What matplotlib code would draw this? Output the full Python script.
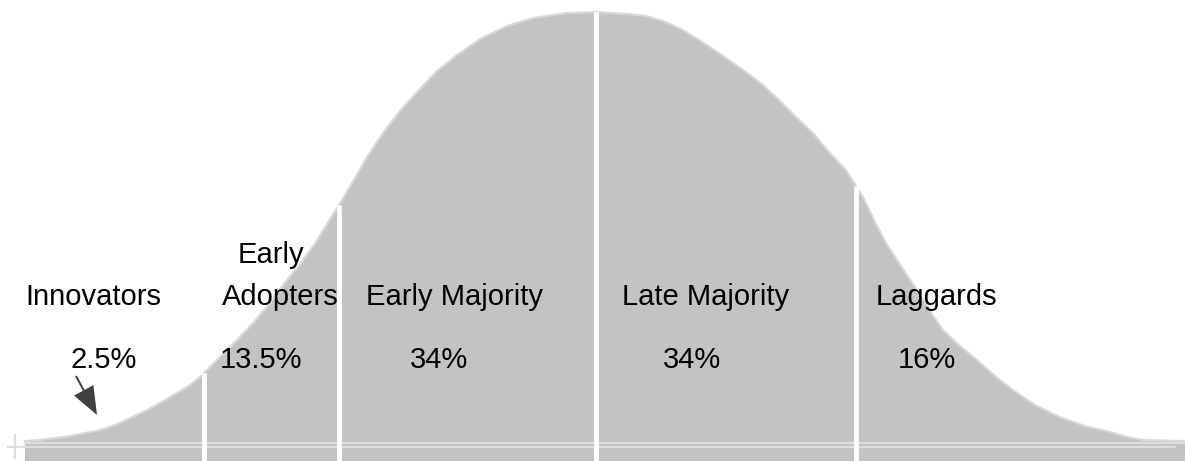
import matplotlib
matplotlib.use("Agg")
import matplotlib.pyplot as plt
import numpy as np

# ---- data (x in px, curve top in px from image top) ----
curve_x = [25, 40, 55, 70, 85, 100, 115, 130, 145, 160, 175, 190, 202, 220, 237,
           253, 270, 287, 300, 314, 327, 342, 355, 367, 383, 400, 417, 437, 457,
           480, 507, 533, 567, 596, 629, 646, 663, 679, 696, 713, 729, 746, 763,
           779, 796, 813, 829, 846, 863, 875, 886, 897, 917, 930, 943, 960, 977,
           995, 1013, 1035, 1060, 1085, 1110, 1128, 1143, 1185]
curve_top = [441, 440, 438, 436, 433, 430, 425, 418, 411, 403, 394, 385, 375, 357, 340,
             323, 303, 280, 264, 245, 224, 200, 178, 157, 133, 111, 92, 71, 55,
             39, 26, 18, 13, 12, 14, 16, 21, 28, 38, 49, 60, 72, 85,
             100, 117, 133, 152, 170, 197, 222, 243, 260, 290, 311, 330, 346, 360,
             376, 390, 405, 417, 426, 432, 437, 440, 441]
boundaries = [204, 339, 596, 856]

group_names = ["Innovators", "Adopters", "Early Majority", "Late Majority", "Laggards"]
group_shares = ["2.5%", "13.5%", "34%", "34%", "16%"]

BASE = 441  # baseline pixel row
heights = [BASE - v for v in curve_top]

FILL = "#c3c3c3"
EDGE = "#d9d9d9"
LIGHT = "#dedede"

fig = plt.figure(figsize=(11.85, 4.61), dpi=100)
ax = fig.add_axes([0, 0, 1, 1])
ax.set_xlim(0, 1185)
ax.set_ylim(-20, BASE)
ax.axis("off")

def h(py):
    return BASE - py

# curve
ax.fill_between(curve_x, 0, heights, color=FILL, lw=0, zorder=1)
ax.plot(curve_x, heights, color=EDGE, lw=1.5, zorder=2, solid_joinstyle="round")

# bottom band
ax.fill_between([25, 1185], h(461), h(441), color=FILL, lw=0, zorder=1)
ax.plot([25, 1185], [h(442.5), h(442.5)], color=LIGHT, lw=1.6, zorder=3)
ax.plot([8, 1175], [h(447), h(447)], color=LIGHT, lw=1.6, zorder=3)
ax.plot([15, 15], [h(435), h(458)], color=LIGHT, lw=1.6, zorder=3)

# white boundary lines up to the curve
for bx in boundaries:
    top = np.interp(bx, curve_x, heights)
    ax.plot([bx, bx], [h(461), top], color="white", lw=3.5, zorder=4,
            solid_capstyle="butt")

# arrow for innovators
ax.arrow(76, h(376), 21, h(415) - h(376), width=2.0, head_width=22, head_length=28,
         length_includes_head=True, color="#404040", lw=0, zorder=5)

font = dict(family="Liberation Sans", fontsize=21.0, color="black",
            va="baseline", ha="left", zorder=6)

name_pos = [(25, 305), (222, 305), (366, 305), (622, 305), (876, 305)]
share_pos = [(70, 368), (220, 368), (410, 368), (663, 368), (898, 368)]

ax.text(238, h(263), "Early", **font)
for (px, py), name in zip(name_pos, group_names):
    ax.text(px, h(py), name, **font)
for (px, py), s in zip(share_pos, group_shares):
    ax.text(px, h(py), s, **font)

fig.savefig("out.png", dpi=100)
